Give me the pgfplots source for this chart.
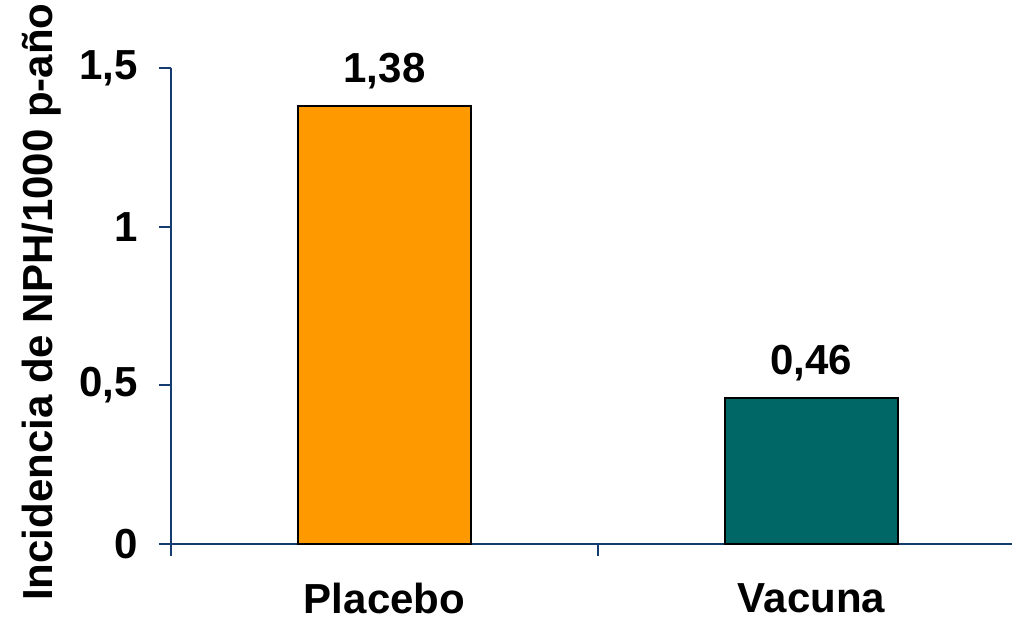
\documentclass[border=0pt]{standalone}
\usepackage{pgfplots}
\pgfplotsset{compat=1.18}
\usepackage{fontspec}
\setmainfont{Liberation Sans}
\definecolor{axisblue}{RGB}{20,60,110}
\definecolor{placebo}{RGB}{255,153,0}
\definecolor{vacuna}{RGB}{0,102,102}
\begin{document}
\begin{tikzpicture}
\begin{axis}[
  at={(85.5pt,39pt)}, anchor=south west,
  scale only axis, width=420.5pt, height=238pt,
  font=\fontsize{21}{25}\selectfont\bfseries,
  xmin=-0.5, xmax=1.4696, ymin=0, ymax=1.5,
  axis x line*=bottom, axis y line*=left,
  axis line style={-, draw=axisblue, line width=1pt},
  tick style={draw=axisblue, line width=1pt},
  tick align=outside, major tick length=6pt,
  ytick={0,0.5,1,1.5}, yticklabels={0,{0,5},1,{1,5}},
  yticklabel style={xshift=-7pt},
  xtick={-0.5,0.5}, xticklabels={},
  extra x ticks={0,1}, extra x tick labels={Placebo,Vacuna},
  extra x tick style={major tick length=0pt, tick style={draw=none},
    xticklabel style={inner sep=0pt, yshift=-19.5pt}},
  ylabel={Incidencia de NPH/1000 p-año},
  ylabel style={at={(axis description cs:-0.1534,0.508)}, anchor=center},
  ybar, bar width=86.5pt,
  nodes near coords,
  nodes near coords style={yshift=5pt, /pgf/number format/.cd, fixed, fixed zerofill, precision=2, use comma, assume math mode=true},
  clip=false,
]
\addplot[bar shift=0pt, fill=placebo, draw=black, line width=0.6pt] coordinates {(0,1.38)};
\addplot[bar shift=0pt, fill=vacuna, draw=black, line width=0.6pt] coordinates {(1,0.46)};
\end{axis}
\pgfresetboundingbox
\path[use as bounding box] (0,0) rectangle (506pt,311pt);
\end{tikzpicture}
\end{document}
